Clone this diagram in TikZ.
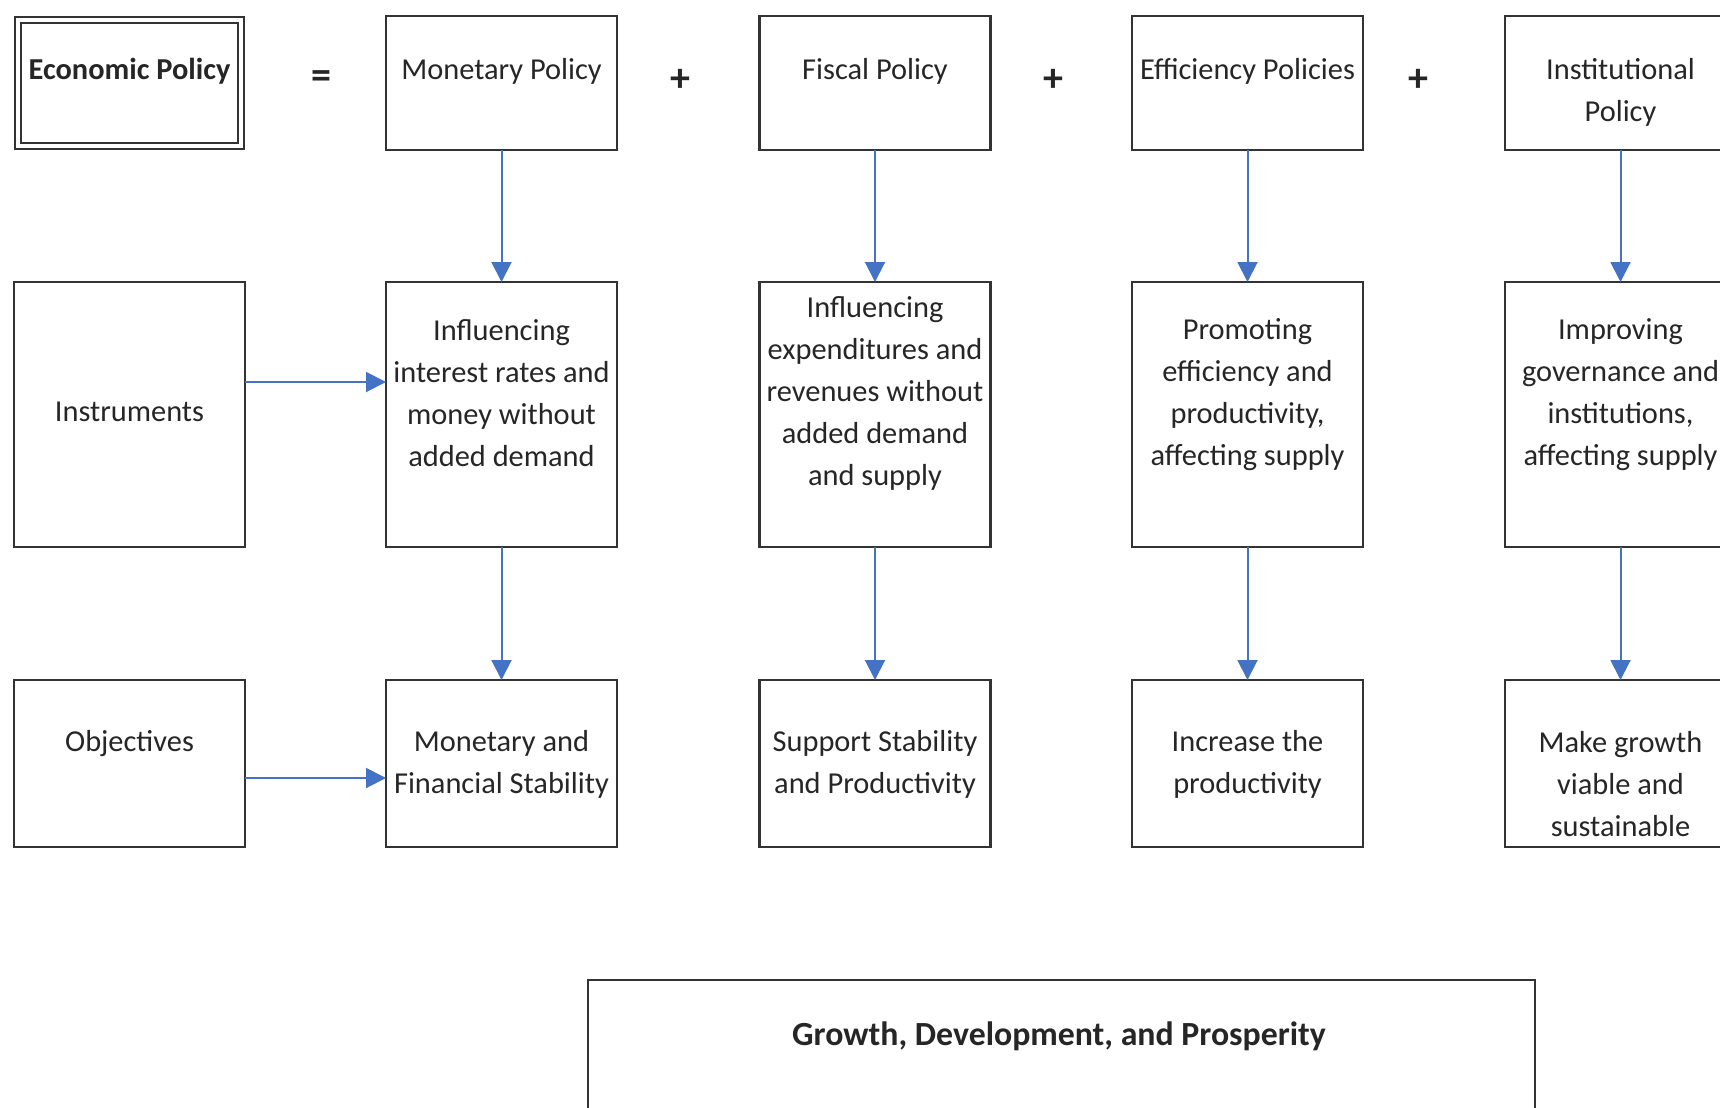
\documentclass[tikz,border=0pt]{standalone}
\usepackage{fontspec}
\setmainfont{Carlito}
\usetikzlibrary{arrows.meta}
\definecolor{arrblue}{HTML}{4472C4}
\definecolor{txt}{HTML}{262626}
\begin{document}
\begin{tikzpicture}[x=0.5pt,y=-0.5pt,
  box/.style={draw=black!80,line width=1.4pt,rectangle,minimum width=115.5pt,inner sep=0pt,outer sep=0pt},
  r1/.style={box,minimum height=67pt},
  r2/.style={box,minimum height=132.5pt},
  r3/.style={box,minimum height=83.5pt},
  lbl/.style={font=\fontsize{15.2pt}{21pt}\selectfont,text=txt,align=center,inner sep=0pt},
  op/.style={font=\fontsize{20pt}{21pt}\selectfont\bfseries,text=txt,inner sep=0pt},
  arr/.style={draw=arrblue,line width=1pt,-{Triangle[width=10pt,length=10pt]}}]
\useasboundingbox (0,0) rectangle (1720,1108);
\fill[white] (0,0) rectangle (1720,1108);
\clip (0,0) rectangle (1720,1108);

% row 1
\node[draw=black!80,line width=1pt,double,double distance=2pt,minimum width=111.5pt,minimum height=63pt,inner sep=0pt] (ep) at (129.5,83) {};
\node[r1] (mp) at (501.5,83) {};
\node[r1] (fp) at (875,83) {};
\node[r1] (efp) at (1247.5,83) {};
\node[r1] (ip) at (1620.5,83) {};

\node[lbl,font=\fontsize{15.2pt}{21pt}\selectfont\bfseries] (tep) at (129.5,71) {Economic Policy};
\node[lbl] (tmp) at (501.5,71) {Monetary Policy};
\node[lbl] (tfp) at (875,71) {Fiscal Policy};
\node[lbl] (tefp) at (1247.5,71) {Efficiency Policies};
\node[lbl] (tip) at (1620.5,92) {Institutional\\Policy};

\node[op] (eq) at (321,80) {=};
\node[op] (p1) at (680,80) {+};
\node[op] (p2) at (1053,80) {+};
\node[op] (p3) at (1418,80) {+};

% row 2
\node[r2] (ins) at (129.5,414.5) {};
\node[r2] (mi) at (501.5,414.5) {};
\node[r2] (fi) at (875,414.5) {};
\node[r2] (ei) at (1247.5,414.5) {};
\node[r2] (ii) at (1620.5,414.5) {};

\node[lbl] (tins) at (129.5,412) {Instruments};
\node[lbl] (tmi) at (501.5,393) {Influencing\\interest rates and\\money without\\added demand};
\node[lbl] (tfi) at (875,393) {Influencing\\expenditures and\\revenues without\\added demand\\and supply};
\node[lbl] (tei) at (1247.5,395) {Promoting\\efficiency and\\productivity,\\affecting supply};
\node[lbl] (tii) at (1620.5,395) {Improving\\governance and\\institutions,\\affecting supply};

% row 3
\node[r3] (obj) at (129.5,763.5) {};
\node[r3] (mo) at (501.5,763.5) {};
\node[r3] (fo) at (875,763.5) {};
\node[r3] (eo) at (1247.5,763.5) {};
\node[r3] (io) at (1620.5,763.5) {};

\node[lbl] (tobj) at (129.5,744) {Objectives};
\node[lbl] (tmo) at (501.5,764) {Monetary and\\Financial Stability};
\node[lbl] (tfo) at (875,764) {Support Stability\\and Productivity};
\node[lbl] (teo) at (1247.5,764) {Increase the\\productivity};
\node[lbl] (tio) at (1620.5,784) {Make growth\\viable and\\sustainable};

% bottom
\node[box,minimum width=473.5pt,minimum height=110pt] (gdp) at (1061.5,1090) {};
\node[lbl,font=\fontsize{16.9pt}{21pt}\selectfont\bfseries] (tgdp) at (1059,1036) {Growth, Development, and Prosperity};

% arrows
\draw[arr] (mp.south) -- (mi.north);
\draw[arr] (fp.south) -- (fi.north);
\draw[arr] (efp.south) -- (ei.north);
\draw[arr] (ip.south) -- (ii.north);
\draw[arr] (mi.south) -- (mo.north);
\draw[arr] (fi.south) -- (fo.north);
\draw[arr] (ei.south) -- (eo.north);
\draw[arr] (ii.south) -- (io.north);
\draw[arr] ([yshift=16.25pt]ins.east) -- ([yshift=16.25pt]mi.west);
\draw[arr] ([yshift=-7.25pt]obj.east) -- ([yshift=-7.25pt]mo.west);
\end{tikzpicture}
\end{document}
